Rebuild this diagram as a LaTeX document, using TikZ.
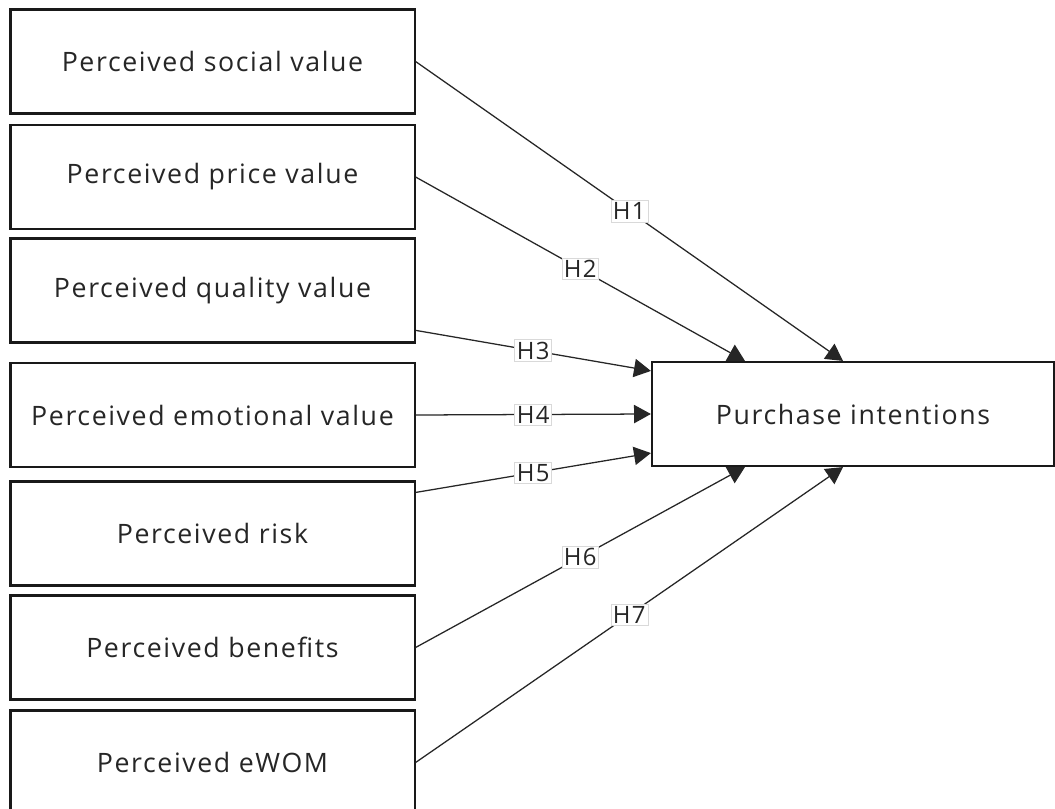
\documentclass[tikz,border=0pt]{standalone}
\usepackage{fontspec}
\setmainfont{Open Sans}[LetterSpace=6]
\usetikzlibrary{arrows.meta}
\begin{document}
\begin{tikzpicture}[x=0.025cm, y=-0.025cm,
        box/.style={rectangle,draw,line width=1.5pt,black!90,fill=white,
      minimum width=10.1cm,minimum height=2.6cm,inner sep=0pt,
      font=\fontsize{19}{22}\selectfont,text=black!85},
        hyp/.style={fill=white,draw=black!15,line width=0.4pt,inner sep=1.5pt,
      font=\fontsize{17}{20}\selectfont,text=black!85},
        unidirectional/.style={line width=0.9pt,black!85,
      -{Triangle[length=12pt,width=13pt]}}]

        \clip (0,0) rectangle (1055,809);
        \fill [white] (0,0) rectangle (1055,809);

	\node [box] (s1) at (212.5, 61.5)      {Perceived social value};
        \node [box] (s2) at (212.5, 177)       {Perceived price value};
        \node [box] (s3) at (212.5, 290.5)     {Perceived quality value};
        \node [box] (s4) at (212.5, 415)       {Perceived emotional value};
        \node [box] (s5) at (212.5, 533.5)     {Perceived risk};
        \node [box] (s6) at (212.5, 647.5)     {Perceived benefits};
        \node [box] (s7) at (212.5, 762.5)     {Perceived eWOM};
        \node [box, minimum width=10.05cm] (pi) at (853, 414) {Purchase intentions};

        \path [unidirectional] (s1.east) edge node [hyp] {H1} ([xshift=-0.25cm]pi.north);
        \path [unidirectional] (s2.east) edge node [hyp] {H2} ([xshift=-2.7cm]pi.north);
        \path [unidirectional] ([yshift=0.33cm]s3.south east) edge node [hyp] {H3} ([yshift=-0.25cm]pi.north west);
        \path [unidirectional] (s4.east) edge node [hyp] {H4} (pi.west);
        \path [unidirectional] ([yshift=-0.3cm]s5.north east) edge node [hyp] {H5} ([yshift=0.35cm]pi.south west);
        \path [unidirectional] (s6.east) edge node [hyp] {H6} ([xshift=-2.7cm]pi.south);
        \path [unidirectional] (s7.east) edge node [hyp] {H7} ([xshift=-0.25cm]pi.south);
\end{tikzpicture}
\end{document}
